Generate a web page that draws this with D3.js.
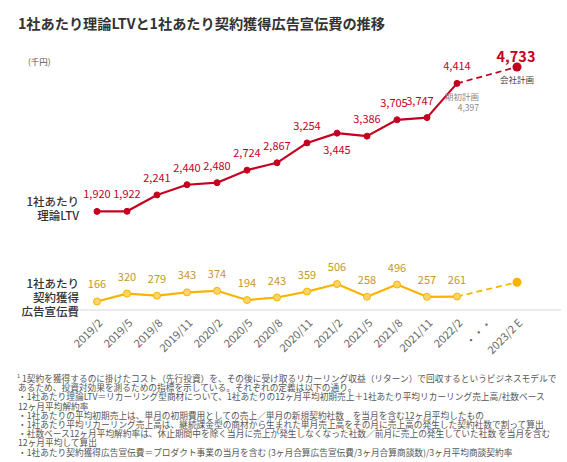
<!DOCTYPE html>
<html>
<head>
<meta charset="utf-8">
<script src="https://cdn.jsdelivr.net/npm/d3@7"></script>
<style>
	body { margin: 0; background: #fff; }
	svg text { font-family: "Noto Sans CJK JP", "Noto Sans", sans-serif; }
</style>
</head>
<body>
<div id="content"></div>
<script>
// categories (the "・・・" slot is the gap before the plan year)
var periods = ["2019/2", "2019/5", "2019/8", "2019/11", "2020/2", "2020/5", "2020/8",
	"2020/11", "2021/2", "2021/5", "2021/8", "2021/11", "2022/2", "・・・", "2023/2 E"];

// 1社あたり理論LTV (千円)
var ltvValues = [1920, 1922, 2241, 2440, 2480, 2724, 2867, 3254, 3445, 3386, 3705, 3747, 4414, null, 4733];

// 1社あたり契約獲得広告宣伝費 (千円), last one is the plan (no label shown)
var adCostValues = [166, 320, 279, 343, 374, 194, 243, 359, 506, 258, 496, 257, 261, null, 540];

var ltvPlanStart = 4397; // 期初計画

var footnotes = [
	"1契約を獲得するのに掛けたコスト（先行投資）を、その後に受け取るリカーリング収益（リターン）で回収するというビジネスモデルで",
	"あるため、投資対効果を測るための指標を示している。それぞれの定義は以下の通り。",
	"・1社あたり理論LTV＝リカーリング型商材について、1社あたりの12ヶ月平均初期売上＋1社あたり平均リカーリング売上高/社数ベース",
	"12ヶ月平均解約率",
	"・1社あたりの平均初期売上は、単月の初期費用としての売上／単月の新規契約社数　を当月を含む12ヶ月平均したもの",
	"・1社あたり平均リカーリング売上高は、継続課金型の商材から生まれた単月売上高をその月に売上高の発生した契約社数で割って算出",
	"・社数ベース12ヶ月平均解約率は、休止期間中を除く当月に売上が発生しなくなった社数／前月に売上の発生していた社数 を当月を含む",
	"12ヶ月平均して算出",
	"・1社あたり契約獲得広告宣伝費＝プロダクト事業の当月を含む (3ヶ月合算広告宣伝費/3ヶ月合算商談数)/3ヶ月平均商談契約率"
];

var RED = "#c5001f";
var YELLOW = "#fab400";
var YELLOW_TEXT = "#c8952e";

function main() {
	var svg = d3.select("#content")
		.append("svg")
		.attr("width", 567)
		.attr("height", 462);

	var x = d3.scalePoint()
		.domain(periods)
		.range([97, 517]);

	var y = d3.scaleLinear()
		.domain([0, 4733])
		.range([310, 67]);

	// title
	svg.append("text")
		.attr("x", 18)
		.attr("y", 29)
		.attr("font-size", "14.2px")
		.attr("font-weight", "bold")
		.attr("fill", "#333")
		.text("1社あたり理論LTVと1社あたり契約獲得広告宣伝費の推移");

	svg.append("text")
		.attr("x", 28)
		.attr("y", 65)
		.attr("font-size", "8.5px")
		.attr("fill", "#555")
		.text("(千円)");

	// baseline
	svg.append("line")
		.attr("x1", 80)
		.attr("x2", 561)
		.attr("y1", y(0))
		.attr("y2", y(0))
		.attr("stroke", "#e4e4e4")
		.attr("stroke-width", 1.5);

	// x axis
	var axis = svg.append("g")
		.attr("transform", "translate(0," + y(0) + ")")
		.call(d3.axisBottom(x).tickSize(0).tickPadding(0));
	axis.select(".domain").remove();
	axis.selectAll("text")
		.attr("y", 0)
		.attr("dy", "0.35em")
		.attr("transform", "translate(3,11) rotate(-45)")
		.attr("text-anchor", "end")
		.attr("font-size", "11px")
		.attr("font-family", null)
		.attr("fill", "#666");

	// series names
	drawSeriesName(svg, ["1社あたり", "理論LTV"], 206);
	drawSeriesName(svg, ["1社あたり", "契約獲得", "広告宣伝費"], 288);

	drawSeries(svg, x, y, ltvValues, {
		color: RED, textColor: RED, width: 2.2, fill: RED, r: 3,
		below: ["2021/2"], dx: { "2021/8": -3, "2021/11": -7 }
	});
	drawSeries(svg, x, y, adCostValues, {
		color: YELLOW, textColor: YELLOW_TEXT, width: 2.2, fill: "#fdd46a", r: 3.5,
		below: [], dx: {}
	});

	// plan annotations
	var last = periods.length - 1;
	svg.append("text")
		.attr("x", x(periods[last]) - 1)
		.attr("y", y(ltvValues[last]) - 5)
		.attr("text-anchor", "middle")
		.attr("font-size", "14.5px")
		.attr("font-weight", "bold")
		.attr("fill", RED)
		.text(d3.format(",")(ltvValues[last]));
	svg.append("text")
		.attr("x", x(periods[last]))
		.attr("y", y(ltvValues[last]) + 16)
		.attr("text-anchor", "middle")
		.attr("font-size", "8.5px")
		.attr("fill", "#444")
		.text("会社計画");

	var p = x("2022/2");
	svg.append("text")
		.attr("x", p + 22)
		.attr("y", y(ltvPlanStart) + 16)
		.attr("text-anchor", "end")
		.attr("font-size", "8.5px")
		.attr("fill", "#888")
		.text("期初計画");
	svg.append("text")
		.attr("x", p + 22)
		.attr("y", y(ltvPlanStart) + 27)
		.attr("text-anchor", "end")
		.attr("font-size", "8.5px")
		.attr("fill", "#888")
		.text(d3.format(",")(ltvPlanStart));

	// footnotes
	var notes = svg.append("g").attr("fill", "#555").attr("font-size", "8.7px");
	notes.append("text")
		.attr("x", 17)
		.attr("y", 378)
		.attr("font-size", "5.5px")
		.text("1");
	notes.selectAll(".note")
		.data(footnotes)
		.enter()
		.append("text")
		.attr("class", "note")
		.attr("x", function (d, i) { return i == 0 ? 22 : 18; })
		.attr("y", function (d, i) { return 382 + i * 9.2; })
		.text(function (d) { return d; });
}

function drawSeriesName(svg, lines, top) {
	svg.append("text")
		.attr("text-anchor", "end")
		.attr("font-size", "11.5px")
		.attr("font-weight", 500)
		.attr("fill", "#333")
		.selectAll("tspan")
		.data(lines)
		.enter()
		.append("tspan")
		.attr("x", 79)
		.attr("y", function (d, i) { return top + i * 14; })
		.text(function (d) { return d; });
}

function drawSeries(svg, x, y, values, opt) {
	var pts = values.map(function (v, i) { return { p: periods[i], v: v, i: i }; });
	var last = pts.length - 1;
	var solid = pts.slice(0, last - 1);
	var plan = [pts[last - 2], pts[last]];

	var line = d3.line()
		.x(function (d) { return x(d.p); })
		.y(function (d) { return y(d.v); });

	var g = svg.append("g");

	g.append("path")
		.datum(solid)
		.attr("fill", "none")
		.attr("stroke", opt.color)
		.attr("stroke-width", opt.width)
		.attr("stroke-linejoin", "round")
		.attr("d", line);

	g.append("path")
		.datum(plan)
		.attr("fill", "none")
		.attr("stroke", opt.color)
		.attr("stroke-width", opt.width * 0.8)
		.attr("stroke-dasharray", "6,4")
		.attr("d", line);

	g.selectAll(".pt")
		.data(solid)
		.enter()
		.append("circle")
		.attr("class", "pt")
		.attr("cx", function (d) { return x(d.p); })
		.attr("cy", function (d) { return y(d.v); })
		.attr("r", opt.r)
		.attr("fill", opt.fill)
		.attr("stroke", opt.color)
		.attr("stroke-width", 1);

	g.append("circle")
		.attr("cx", x(pts[last].p))
		.attr("cy", y(pts[last].v))
		.attr("r", 4.5)
		.attr("fill", opt.color);

	g.selectAll(".lbl")
		.data(solid)
		.enter()
		.append("text")
		.attr("class", "lbl")
		.attr("x", function (d) { return x(d.p) + (opt.dx[d.p] || 0); })
		.attr("y", function (d) {
			return opt.below.indexOf(d.p) >= 0 ? y(d.v) + 21 : y(d.v) - 13;
		})
		.attr("text-anchor", "middle")
		.attr("font-size", "11px")
		.attr("fill", opt.textColor)
		.text(function (d) { return d3.format(",")(d.v); });
}

(() => {
	main();
})()
</script>
</body>
</html>
